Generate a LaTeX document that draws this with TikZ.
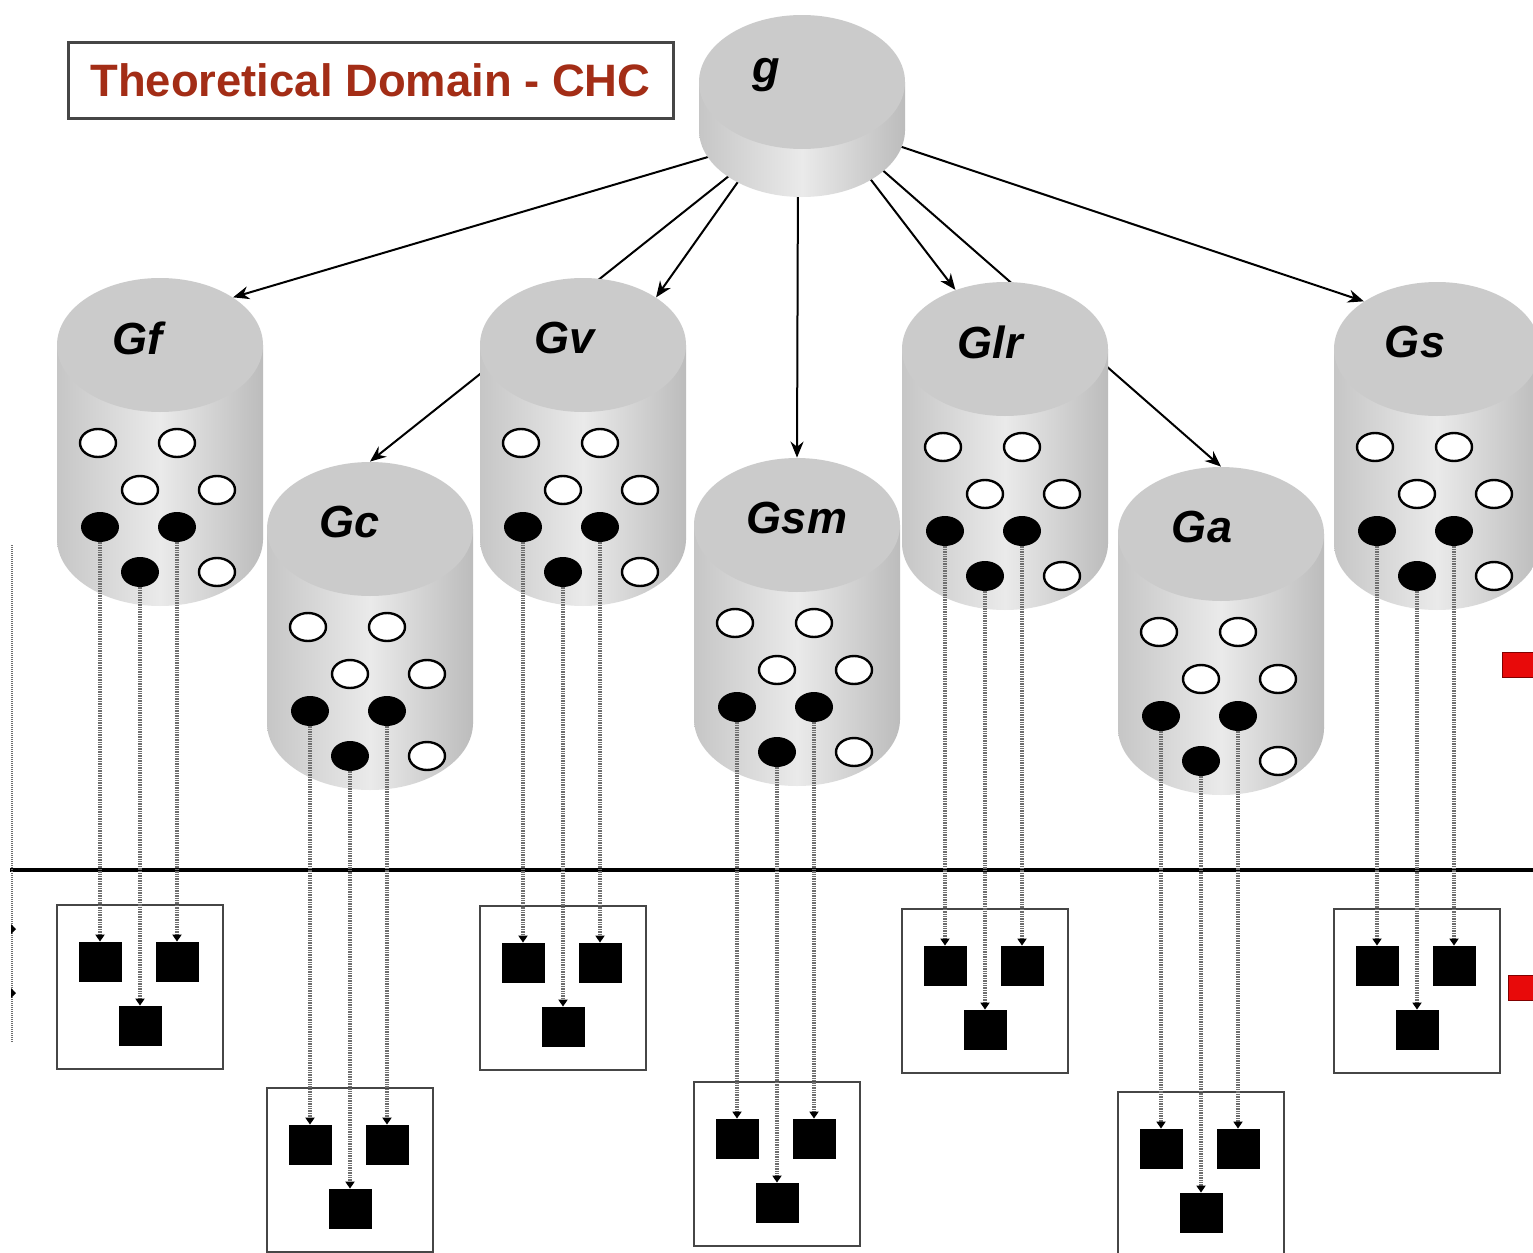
\documentclass[tikz,border=0pt]{standalone}
\usepackage{fontspec}
\setmainfont{Liberation Sans}
\usetikzlibrary{shapes.geometric,arrows.meta}
\pgfdeclarelayer{bg}
\pgfdeclarelayer{back}
\pgfdeclarelayer{front}
\pgfsetlayers{bg,back,main,front}
\definecolor{facegray}{RGB}{203,203,203}
\definecolor{bodyleft}{RGB}{198,198,198}
\definecolor{bodyright}{RGB}{188,188,188}
\definecolor{bodymid}{RGB}{234,234,234}
\definecolor{titlered}{RGB}{163,45,22}
\definecolor{dotgray}{RGB}{110,110,110}
\definecolor{boxgray}{RGB}{70,70,70}
\definecolor{redsqc}{RGB}{232,10,10}
\tikzset{
  body/.style={left color=bodyleft, right color=bodyright, middle color=bodymid},
  face/.style={ellipse, fill=facegray, minimum width=103pt, minimum height=67pt, inner sep=0pt},
  lbl/.style={font=\fontsize{22.5}{27}\selectfont\bfseries\itshape, inner sep=0pt, text=black},
  wdot/.style={ellipse, draw=black, line width=1.2pt, fill=white, minimum width=18pt, minimum height=14pt, inner sep=0pt},
  bdot/.style={ellipse, fill=black, minimum width=19pt, minimum height=15pt, inner sep=0pt},
  obox/.style={draw=boxgray, line width=1pt, minimum width=83pt, minimum height=82pt, inner sep=0pt},
  sq/.style={fill=black, minimum width=21.5pt, minimum height=20pt, inner sep=0pt},
  garr/.style={draw=black, line width=1pt, -{Stealth[length=8pt,width=6.5pt]}},
  dotarr/.style={draw=dotgray, line width=1.6pt, dash pattern=on 0.7pt off 0.5pt, -{Triangle[length=3.5pt,width=4.5pt,color=black]}},
  titlebox/.style={draw=boxgray, line width=1.5pt, minimum width=302.5pt, minimum height=38pt, inner sep=0pt,
     text=titlered, font=\fontsize{22.7}{27}\selectfont\bfseries},
  redsq/.style={fill=redsqc, draw=red!50!black, line width=0.4pt, minimum width=22pt, minimum height=12.5pt, inner sep=0pt}
}
% cylinder: name, cx, cy (top face centre), body height, label, label dx
\newcommand\Cyl[6]{%
  \shade[body] (#2-103,#3) rectangle (#2+103,#3+#4);
  \shade[body] (#2,#3+#4) ellipse (103 and 67);
  \node[face] (#1) at (#2,#3) {};
  \node[lbl] (#1-t) at (#2+#6,#3-7) {#5};
}
% dots inside a cylinder: name, cx, cy
\newcommand\Dots[3]{%
  \node[wdot] (#1-w1) at (#2-62,#3+98) {};
  \node[wdot] (#1-w2) at (#2+17,#3+98) {};
  \node[wdot] (#1-w3) at (#2-20,#3+145) {};
  \node[wdot] (#1-w4) at (#2+57,#3+145) {};
  \node[wdot] (#1-w5) at (#2+57,#3+227) {};
  \node[bdot] (#1-b1) at (#2-60,#3+182) {};
  \node[bdot] (#1-b2) at (#2+17,#3+182) {};
  \node[bdot] (#1-b3) at (#2-20,#3+227) {};
}
% output box: name, cx, box top
\newcommand\Outbox[3]{%
  \node[obox] (#1-box) at (#2-20,#3+82) {};
  \node[sq] (#1-s1) at (#2-60,#3+57) {};
  \node[sq] (#1-s2) at (#2+17,#3+57) {};
  \node[sq] (#1-s3) at (#2-20,#3+121) {};
  \begin{pgfonlayer}{front}
    \draw[dotarr] (#1-b1) -- (#1-s1);
    \draw[dotarr] (#1-b2) -- (#1-s2);
    \draw[dotarr] (#1-b3) -- (#1-s3);
  \end{pgfonlayer}
}
\begin{document}
\begin{tikzpicture}[x=0.5pt,y=-0.5pt]
\useasboundingbox (0,0) rectangle (1533,1253);
\begin{pgfonlayer}{bg}
  \fill[white] (0,0) rectangle (1533,1253);
\end{pgfonlayer}
\clip (0,0) rectangle (1533,1253);

% title
\node[titlebox] (title) at (370.5,80) {Theoretical Domain - CHC};

% cylinders
\Cyl{g}{802}{82}{48}{g}{-36}
\Cyl{Gf}{160}{345}{194}{Gf}{-23}
\Cyl{Gv}{583}{345}{194}{Gv}{-18}
\Cyl{Glr}{1005}{349}{194}{Glr}{-15}
\Cyl{Gs}{1437}{349}{194}{Gs}{-22}
\Cyl{Gc}{370}{529}{194}{Gc}{-20}
\Cyl{Gsm}{797}{525}{194}{Gsm}{0}
\Cyl{Ga}{1221}{534}{194}{Ga}{-19}

\Dots{Gf}{160}{345}
\Dots{Gv}{583}{345}
\Dots{Glr}{1005}{349}
\Dots{Gs}{1437}{349}
\Dots{Gc}{370}{529}
\Dots{Gsm}{797}{525}
\Dots{Ga}{1221}{534}

% connectors from g (behind the cylinders)
\coordinate (o1) at (735,149);
\coordinate (o2) at (749,160);
\coordinate (o3) at (752,162);
\coordinate (o4) at (798,170);
\coordinate (o5) at (855,159);
\coordinate (o6) at (863,153);
\coordinate (o7) at (878,139);
\begin{pgfonlayer}{back}
  \draw[garr] (o1) -- (Gf.north east);
  \draw[garr] (o2) -- (Gc.north);
  \draw[garr] (o3) -- (Gv.north east);
  \draw[garr] (o4) -- (Gsm.north);
  \draw[garr] (o5) -- (Glr.130);
  \draw[garr] (o6) -- (Ga.north);
  \draw[garr] (o7) -- (Gs.north west);
\end{pgfonlayer}

% separator line
\coordinate (hl1) at (10,870);
\coordinate (hl2) at (1540,870);
\draw[line width=1.6pt] (hl1) -- (hl2);

% output boxes
\Outbox{Gf}{160}{905}
\Outbox{Gv}{583}{906}
\Outbox{Glr}{1005}{909}
\Outbox{Gs}{1437}{909}
\Outbox{Gc}{370}{1088}
\Outbox{Gsm}{797}{1082}
\Outbox{Ga}{1221}{1092}

% left edge fragment
\coordinate (lv1) at (12,545);
\coordinate (lv2) at (12,1043);
\draw[draw=dotgray, line width=0.9pt, dash pattern=on 0.5pt off 0.5pt] (lv1) -- (lv2);
\fill[black] (11,924) -- (16,929) -- (11,934) -- cycle;
\fill[black] (11,988) -- (16,993) -- (11,998) -- cycle;

% right edge red marks
\node[redsq] (red1) at (1524,664.5) {};
\node[redsq] (red2) at (1530,987.5) {};
\end{tikzpicture}
\end{document}
